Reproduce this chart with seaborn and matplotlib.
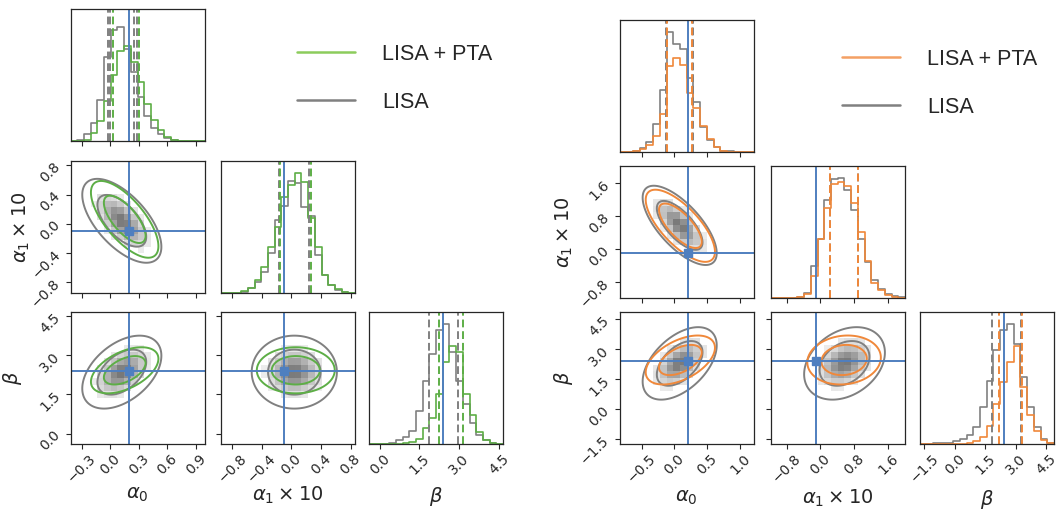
import numpy as np
import matplotlib
matplotlib.use("Agg")
import matplotlib.pyplot as plt
from matplotlib.colors import LinearSegmentedColormap
from matplotlib.lines import Line2D
import seaborn as sns

sns.set_style("ticks")
plt.rcParams["font.family"] = ["DejaVu Sans"]
plt.rcParams["mathtext.fontset"] = "dejavusans"

# ------------------------------------------------------------------ data
LABELS = [r"$\alpha_0$", r"$\alpha_1\times10$", r"$\beta$"]
TRUTH = [0.2, -0.1, 2.4]
SERIES_NAMES = ["LISA + PTA", "LISA"]
N_BINS = 20

# left corner: LISA + PTA (green) against LISA alone (grey)
LEFT_RANGES = [(-0.42, 0.99), (-0.95, 0.86), (-0.40, 4.65)]
LEFT_TICKS = [[-0.3, 0.0, 0.3, 0.6, 0.9],
              [-0.8, -0.4, 0.0, 0.4, 0.8],
              [0.0, 1.5, 3.0, 4.5]]

# marginal histograms (20 bins over each range, relative heights)
LEFT_A0_LISA = [0, 0.01, 0.05, 0.14, 0.31, 0.64, 0.84, 0.86, 0.70, 0.52,
                0.33, 0.19, 0.10, 0.05, 0.02, 0.005, 0, 0, 0, 0]
LEFT_A0_PTA = [0, 0, 0.01, 0.06, 0.15, 0.30, 0.50, 0.68, 0.72, 0.60,
               0.45, 0.28, 0.16, 0.08, 0.03, 0.01, 0, 0, 0, 0]
LEFT_A1_LISA = [0, 0, 0.003, 0.01, 0.04, 0.08, 0.16, 0.30, 0.55, 0.66,
                0.85, 0.83, 0.65, 0.58, 0.29, 0.14, 0.06, 0.025, 0.005, 0]
LEFT_A1_PTA = [0, 0, 0.003, 0.015, 0.04, 0.10, 0.20, 0.35, 0.50, 0.73,
               0.82, 0.91, 0.84, 0.57, 0.35, 0.14, 0.06, 0.03, 0.005, 0]
LEFT_B_LISA = [0, 0, 0.003, 0.01, 0.03, 0.05, 0.10, 0.25, 0.48, 0.68,
               0.86, 0.91, 0.70, 0.48, 0.30, 0.16, 0.07, 0.03, 0.01, 0]
LEFT_B_PTA = [0, 0, 0, 0, 0, 0.005, 0.015, 0.04, 0.12, 0.20,
              0.38, 0.62, 0.74, 0.70, 0.38, 0.22, 0.09, 0.03, 0.01, 0]

# 16/84 per cent quantile markers
LEFT_Q_LISA = [[-0.03, 0.0, 0.25, 0.28], [-0.17, 0.24], [1.85, 2.97]]
LEFT_Q_PTA = [[0.025, 0.305], [-0.15, 0.26], [2.25, 3.14]]

# 2-D posterior summaries: means, widths, correlations (a0-a1, a0-b, a1-b)
LEFT_MEAN_LISA = [0.12, 0.04, 2.35]
LEFT_SIG_LISA = [0.17, 0.235, 0.57]
LEFT_CORR_LISA = [-0.62, 0.45, 0.0]
LEFT_MEAN_PTA = [0.15, 0.06, 2.42]
LEFT_SIG_PTA = [0.145, 0.215, 0.36]
LEFT_CORR_PTA = [-0.70, 0.50, 0.0]

# right corner: LISA + PTA (orange) against LISA alone (grey)
RIGHT_RANGES = [(-0.835, 1.21), (-1.18, 2.0), (-1.73, 4.87)]
RIGHT_TICKS = [[-0.5, 0.0, 0.5, 1.0],
               [-0.8, 0.0, 0.8, 1.6],
               [-1.5, 0.0, 1.5, 3.0, 4.5]]

RIGHT_A0_LISA = [0, 0.003, 0.01, 0.03, 0.075, 0.21, 0.47, 0.91, 0.82, 0.78,
                 0.56, 0.38, 0.19, 0.09, 0.04, 0.01, 0.005, 0, 0, 0]
RIGHT_A0_PTA = [0, 0, 0.005, 0.02, 0.05, 0.12, 0.29, 0.65, 0.71, 0.66,
                0.45, 0.33, 0.20, 0.10, 0.04, 0.01, 0, 0, 0, 0]
RIGHT_A1_LISA = [0, 0, 0, 0, 0.01, 0.04, 0.24, 0.45, 0.74, 0.90,
                 0.91, 0.82, 0.67, 0.45, 0.27, 0.14, 0.07, 0.03, 0.012, 0.005]
RIGHT_A1_PTA = [0, 0, 0, 0, 0.005, 0.03, 0.17, 0.45, 0.68, 0.86,
                0.88, 0.85, 0.72, 0.50, 0.28, 0.11, 0.06, 0.025, 0.01, 0.003]
RIGHT_B_LISA = [0, 0.003, 0.005, 0.005, 0.01, 0.02, 0.035, 0.07, 0.13, 0.28,
                0.48, 0.71, 0.86, 0.91, 0.76, 0.51, 0.28, 0.13, 0.04, 0.01]
RIGHT_B_PTA = [0, 0, 0, 0, 0, 0, 0.003, 0.01, 0.02, 0.05,
               0.14, 0.30, 0.47, 0.62, 0.74, 0.43, 0.22, 0.10, 0.03, 0.008]

RIGHT_Q_LISA = [[-0.13, 0.29], [0.22, 0.885], [1.83, 3.24]]
RIGHT_Q_PTA = [[-0.11, 0.27], [0.23, 0.88], [2.16, 3.32]]

RIGHT_MEAN_LISA = [0.08, 0.57, 2.30]
RIGHT_SIG_LISA = [0.23, 0.39, 0.74]
RIGHT_CORR_LISA = [-0.70, 0.50, 0.30]
RIGHT_MEAN_PTA = [0.09, 0.56, 2.47]
RIGHT_SIG_PTA = [0.215, 0.355, 0.50]
RIGHT_CORR_PTA = [-0.72, 0.50, 0.10]

# ------------------------------------------------------------------ style
GREY = "#808080"
BLUE = "#4f7fbf"
GREEN = "#5dae46"
ORANGE = "#f0883a"
LEGEND_GREEN = "#8ccc5c"
LEGEND_ORANGE = "#f4a064"
SHADE = LinearSegmentedColormap.from_list("shade", ["#ffffff", "#767676"])
CONTOUR_LEVELS = [0.05, 0.32]          # 95 % and 68 % enclosed
SHADE_FLOOR = 0.22                     # density cells below this stay white
PAIR = {(0, 1): 0, (0, 2): 1, (1, 2): 2}
TICK_SIZE = 10

W, H = 1062, 509
fig = plt.figure(figsize=(W / 100, H / 100), dpi=100)


def add_axes(x0, y0, w, h):
    return fig.add_axes([x0 / W, 1 - (y0 + h) / H, w / W, h / H])


def norm_density(X, Y, mean, sig, corr, a, b):
    r = corr[PAIR[(a, b)]]
    dx = (X - mean[a]) / sig[a]
    dy = (Y - mean[b]) / sig[b]
    q = (dx ** 2 - 2 * r * dx * dy + dy ** 2) / (1 - r ** 2)
    return np.exp(-0.5 * q)


def bin_centers(rng):
    edges = np.linspace(rng[0], rng[1], N_BINS + 1)
    return 0.5 * (edges[:-1] + edges[1:])


def draw_hist(ax, heights, rng, color):
    sns.histplot(x=bin_centers(rng), weights=np.asarray(heights, float),
                 bins=N_BINS, binrange=rng, element="step",
                 fill=False, color=color, linewidth=1.2, ax=ax)


def style_ticks(ax):
    ax.tick_params(axis="both", which="both", labelsize=TICK_SIZE, length=3.5,
                   width=0.8, pad=2, direction="out")
    for lab in ax.get_xticklabels():
        lab.set_rotation(45)
        lab.set_fontsize(TICK_SIZE)
    for lab in ax.get_yticklabels():
        lab.set_rotation(45)
        lab.set_fontsize(TICK_SIZE)


def draw_corner(cols, rows, size, ranges, ticks, hists, quants, stats,
                color, xlab_y, ylab_x):
    hist_lisa, hist_pta = hists
    q_lisa, q_pta = quants
    (m_l, s_l, c_l), (m_p, s_p, c_p) = stats
    for i in range(3):
        for j in range(i + 1):
            ax = add_axes(cols[j], rows[i], size[0], size[1])
            if i == j:
                draw_hist(ax, hist_lisa[i], ranges[i], GREY)
                draw_hist(ax, hist_pta[i], ranges[i], color)
                for q in q_lisa[i]:
                    ax.axvline(q, color=GREY, ls=(0, (4, 2)), lw=1.4)
                for q in q_pta[i]:
                    ax.axvline(q, color=color, ls=(0, (4, 2)), lw=1.4)
                ax.axvline(TRUTH[i], color=BLUE, lw=1.4)
                ax.set_ylim(0, 1)
                ax.set_yticks([])
                ax.set_ylabel("")
            else:
                xr, yr = ranges[j], ranges[i]
                # coarse density shading of the LISA-only posterior
                XC, YC = np.meshgrid(bin_centers(xr), bin_centers(yr))
                D = norm_density(XC, YC, m_l, s_l, c_l, j, i)
                D = np.where(D < SHADE_FLOOR, 0.0, D ** 1.3)
                sns.histplot(x=XC.ravel(), y=YC.ravel(), weights=D.ravel(),
                             bins=N_BINS, binrange=(xr, yr), cmap=SHADE,
                             vmin=0, vmax=1, thresh=None, ax=ax)
                # credible contours
                gx = np.linspace(xr[0], xr[1], 240)
                gy = np.linspace(yr[0], yr[1], 240)
                GX, GY = np.meshgrid(gx, gy)
                ax.contour(GX, GY, norm_density(GX, GY, m_l, s_l, c_l, j, i),
                           levels=CONTOUR_LEVELS, colors=[GREY], linewidths=1.4)
                ax.contour(GX, GY, norm_density(GX, GY, m_p, s_p, c_p, j, i),
                           levels=CONTOUR_LEVELS, colors=[color], linewidths=1.4)
                ax.axvline(TRUTH[j], color=BLUE, lw=1.4)
                ax.axhline(TRUTH[i], color=BLUE, lw=1.4)
                ax.plot(TRUTH[j], TRUTH[i], "s", color=BLUE, ms=6)
                ax.set_ylim(*yr)
                ax.set_yticks(ticks[i])
                if j > 0:
                    ax.set_yticklabels([])
                    ax.set_ylabel("")
                else:
                    ax.set_ylabel(LABELS[i], fontsize=14)
                    ax.yaxis.set_label_coords(ylab_x[i], 0.5)
            ax.set_xlim(*ranges[j])
            ax.set_xticks(ticks[j])
            if i < 2:
                ax.set_xticklabels([])
                ax.set_xlabel("")
            else:
                ax.set_xlabel(LABELS[j], fontsize=14)
                ax.xaxis.set_label_coords(0.5, xlab_y)
            for sp in ax.spines.values():
                sp.set_visible(True)
                sp.set_linewidth(0.9)
            style_ticks(ax)


draw_corner(cols=[70.5, 221, 369], rows=[9, 161, 312], size=(134, 132),
            ranges=LEFT_RANGES, ticks=LEFT_TICKS,
            hists=([LEFT_A0_LISA, LEFT_A1_LISA, LEFT_B_LISA],
                   [LEFT_A0_PTA, LEFT_A1_PTA, LEFT_B_PTA]),
            quants=(LEFT_Q_LISA, LEFT_Q_PTA),
            stats=((LEFT_MEAN_LISA, LEFT_SIG_LISA, LEFT_CORR_LISA),
                   (LEFT_MEAN_PTA, LEFT_SIG_PTA, LEFT_CORR_PTA)),
            color=GREEN, xlab_y=-0.31, ylab_x=[None, -0.29, -0.35])

draw_corner(cols=[619.5, 770.5, 919.5], rows=[20, 166, 312], size=(134.5, 132),
            ranges=RIGHT_RANGES, ticks=RIGHT_TICKS,
            hists=([RIGHT_A0_LISA, RIGHT_A1_LISA, RIGHT_B_LISA],
                   [RIGHT_A0_PTA, RIGHT_A1_PTA, RIGHT_B_PTA]),
            quants=(RIGHT_Q_LISA, RIGHT_Q_PTA),
            stats=((RIGHT_MEAN_LISA, RIGHT_SIG_LISA, RIGHT_CORR_LISA),
                   (RIGHT_MEAN_PTA, RIGHT_SIG_PTA, RIGHT_CORR_PTA)),
            color=ORANGE, xlab_y=-0.33, ylab_x=[None, -0.33, -0.33])

# legends
legend_font = {"family": ["Liberation Sans", "DejaVu Sans"], "size": 15.5}
for (x_px, y_px, col) in [(297, 44, LEGEND_GREEN), (842, 49, LEGEND_ORANGE)]:
    handles = [Line2D([], [], color=col, lw=1.8),
               Line2D([], [], color=GREY, lw=1.8)]
    fig.legend(handles, SERIES_NAMES, loc="upper left",
               bbox_to_anchor=(x_px / W, 1 - y_px / H),
               frameon=False, prop=legend_font, borderpad=0, borderaxespad=0,
               handlelength=2.7, handletextpad=1.25, labelspacing=1.25)

fig.savefig("out.png", dpi=100)
